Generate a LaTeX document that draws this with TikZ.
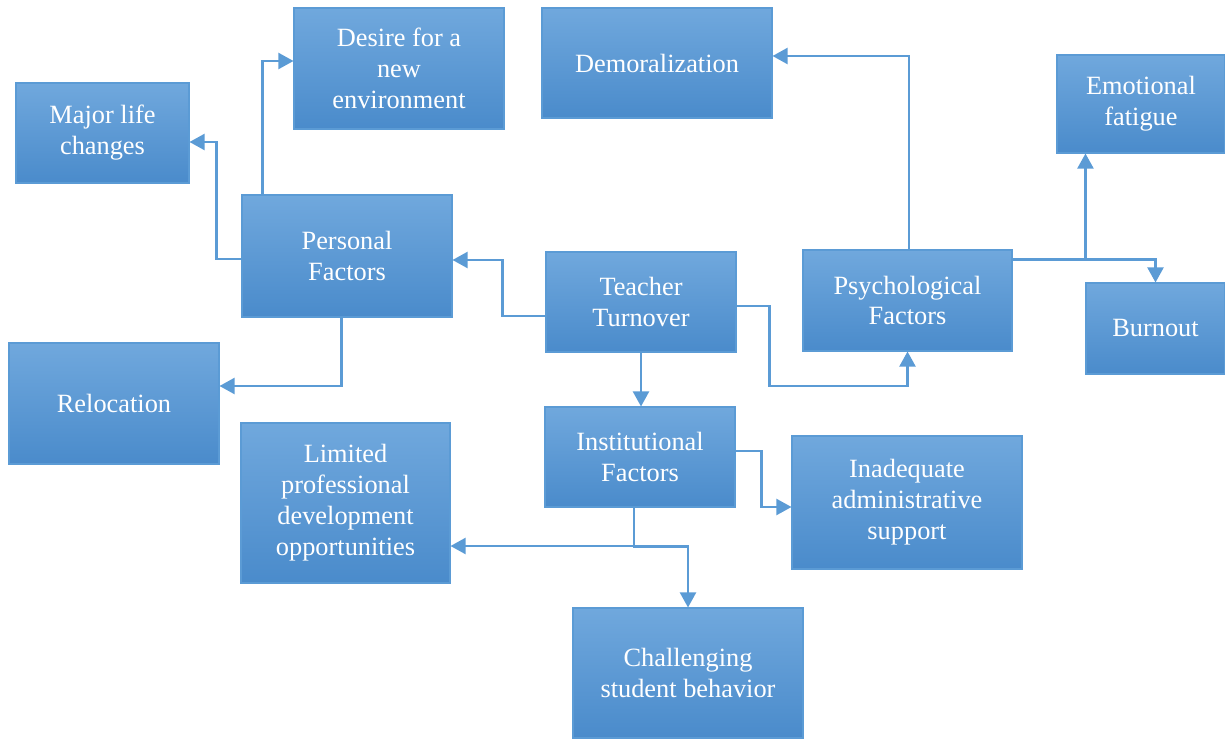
\documentclass[tikz,border=0pt]{standalone}
\usepackage{fontspec}
\setmainfont{Liberation Serif}
\usepackage{tikz}
\usetikzlibrary{calc}
\usetikzlibrary{arrows.meta}

\definecolor{boxtop}{HTML}{70A8DD}
\definecolor{boxbot}{HTML}{4A8BCB}
\definecolor{boxline}{HTML}{5B9BD5}

\begin{document}
\begin{tikzpicture}[x=0.02cm, y=-0.02cm,
		factor/.style={draw=boxline, line width=0.6pt, top color=boxtop, bottom color=boxbot,
			text=white, align=center, inner sep=1pt,
			font=\fontsize{15}{17.6}\selectfont},
		link/.style={draw=boxline, line width=1.2pt,
			-{Triangle[length=0.3cm, width=0.32cm]}}]
		\useasboundingbox (0,0) rectangle (1225,740);

		% Central node
		\node[factor, minimum width=190*0.02cm, minimum height=100*0.02cm] (teacher) at (641,302) {Teacher\\Turnover};

		% Three groups of factors
		\node[factor, minimum width=210*0.02cm, minimum height=122*0.02cm] (personal) at (347,256) {Personal\\Factors};
		\node[factor, minimum width=209*0.02cm, minimum height=101*0.02cm] (psych) at (907.5,300.5) {Psychological\\Factors};
		\node[factor, minimum width=190*0.02cm, minimum height=100*0.02cm] (inst) at (640,457) {Institutional\\Factors};

		% Personal causes
		\node[factor, minimum width=210*0.02cm, minimum height=121*0.02cm] (desire) at (399,68.5) {Desire for a\\new\\environment};
		\node[factor, minimum width=173*0.02cm, minimum height=100*0.02cm] (major) at (102.5,133) {Major life\\changes};
		\node[factor, minimum width=210*0.02cm, minimum height=121*0.02cm] (reloc) at (114,403.5) {Relocation};

		% Psychological causes
		\node[factor, minimum width=230*0.02cm, minimum height=110*0.02cm] (demor) at (657,63) {Demoralization};
		\node[factor, minimum width=168*0.02cm, minimum height=98*0.02cm] (emot) at (1141,104) {Emotional\\fatigue};
		\node[factor, minimum width=139*0.02cm, minimum height=91*0.02cm] (burnout) at (1155.5,328.5) {Burnout};

		% Institutional causes
		\node[factor, minimum width=209*0.02cm, minimum height=160*0.02cm] (limited) at (345.5,503) {Limited\\professional\\development\\opportunities};
		\node[factor, minimum width=230*0.02cm, minimum height=133*0.02cm] (inadequate) at (907,502.5) {Inadequate\\administrative\\support};
		\node[factor, minimum width=230*0.02cm, minimum height=130*0.02cm] (challenging) at (688,673) {Challenging\\student behavior};

		% Edges from the central node
		\draw[link] ($(teacher.west)+(0,14)$) -- ++(-43,0) |- ($(personal.east)+(0,4)$);
		\draw[link] (teacher.south) -- (teacher.south |- inst.north);
		\draw[link] ($(teacher.east)+(0,4)$) -- ++(33,0) -- ++(0,80) -| (psych.south);

		% Edges from personal factors
		\draw[link] ($(personal.north west)+(21,0)$) |- ($(desire.west)+(0,-7.5)$);
		\draw[link] ($(personal.west)+(0,3)$) -- ++(-25,0) |- ($(major.east)+(0,9)$);
		\draw[link] ($(personal.south west)+(100,0)$) |- ($(reloc.east)+(0,-17.5)$);

		% Edges from psychological factors
		\draw[link] ($(psych.north)+(1.5,0)$) |- ($(demor.east)+(0,-7)$);
		\draw[link] ($(psych.north east)+(0,10)$) -| ($(emot.south west)+(29,0)$);
		\draw[link] ($(psych.north east)+(0,10)$) -| (burnout.north);

		% Edges from institutional factors
		\draw[link] ($(inst.east)+(0,-6)$) -- ++(26,0) |- ($(inadequate.west)+(0,4.5)$);
		\draw[link] ($(inst.south)+(-6,0)$) |- ($(limited.east)+(0,43)$);
		\draw[link] ($(inst.south)+(-6,0)$) -- ++(0,39) -| (challenging.north);
	\end{tikzpicture}
\end{document}
